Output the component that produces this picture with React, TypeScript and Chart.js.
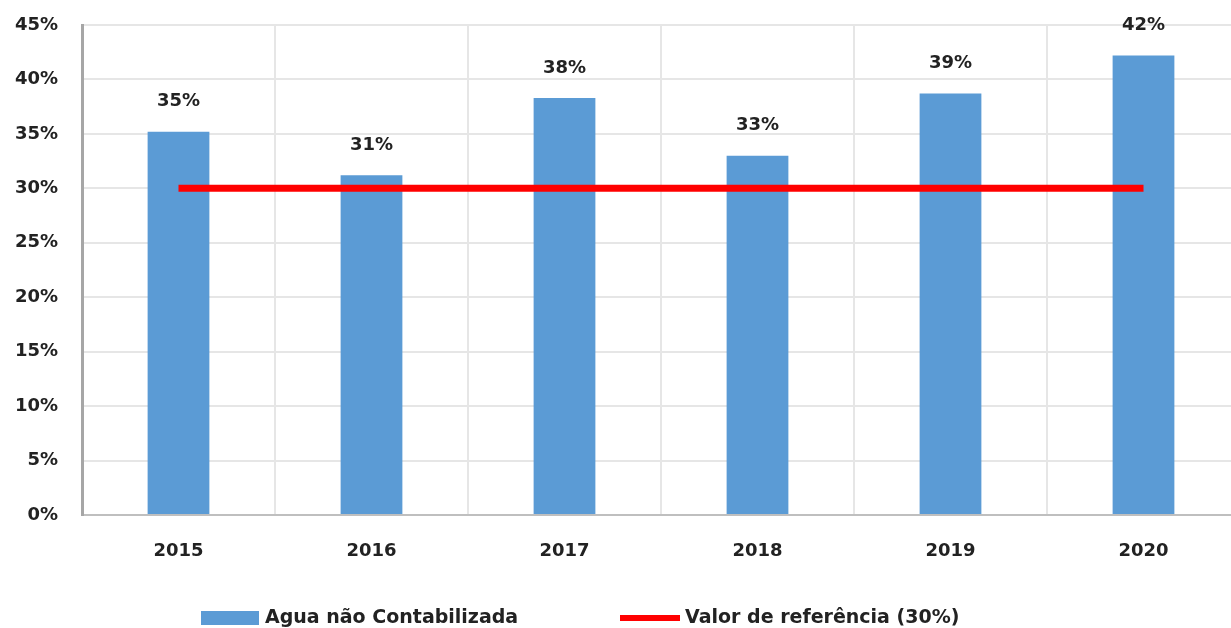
import React, { useEffect, useRef } from "react";
import { Chart, registerables } from "chart.js";

Chart.register(...registerables);

const years = ["2015", "2016", "2017", "2018", "2019", "2020"];
const nonBilledWater = [35.2, 31.2, 38.3, 33.0, 38.7, 42.2];
const referenceValue = [30, 30, 30, 30, 30, 30];
const yMax = 45;
const yStep = 5;
const seriesNames = ["Agua não Contabilizada", "Valor de referência (30%)"];

const FONT_FAMILY = "'DejaVu Sans', 'Liberation Sans', sans-serif";
const TEXT_COLOR = "#222222";
const BAR_COLOR = "#5B9BD5";
const LINE_COLOR = "#FF0000";

const dataLabelsPlugin = {
  id: "dataLabels",
  afterDatasetsDraw(chart: any) {
    const meta = chart.getDatasetMeta(0);
    const ctx = chart.ctx;
    ctx.save();
    ctx.font = `bold 18px ${FONT_FAMILY}`;
    ctx.fillStyle = TEXT_COLOR;
    ctx.textAlign = "center";
    ctx.textBaseline = "middle";
    meta.data.forEach((el: any, i: number) => {
      const v = chart.data.datasets[0].data[i];
      ctx.fillText(`${Math.round(v)}%`, el.x, el.y - 30);
    });
    ctx.restore();
  },
};

const legendPlugin = {
  id: "customLegend",
  afterDraw(chart: any) {
    const ctx = chart.ctx;
    const y = 618;
    ctx.save();
    ctx.font = `bold 19px ${FONT_FAMILY}`;
    ctx.textBaseline = "middle";
    ctx.textAlign = "left";
    // bar series
    ctx.fillStyle = chart.data.datasets[0].backgroundColor;
    ctx.fillRect(201, y - 7, 58, 14);
    ctx.fillStyle = TEXT_COLOR;
    ctx.fillText(chart.data.datasets[0].label, 265, y);
    // line series
    ctx.strokeStyle = chart.data.datasets[1].borderColor;
    ctx.lineWidth = 6;
    ctx.beginPath();
    ctx.moveTo(620, y);
    ctx.lineTo(680, y);
    ctx.stroke();
    ctx.fillText(chart.data.datasets[1].label, 685, y);
    ctx.restore();
  },
};

export default function App() {
  const canvasRef = useRef<HTMLCanvasElement | null>(null);

  useEffect(() => {
    if (!canvasRef.current) return;
    const chart = new Chart(canvasRef.current, {
      type: "bar",
      data: {
        labels: years,
        datasets: [
          {
            type: "bar",
            label: seriesNames[0],
            data: nonBilledWater,
            backgroundColor: BAR_COLOR,
            barPercentage: 0.32,
            categoryPercentage: 1,
            order: 2,
          },
          {
            type: "line",
            label: seriesNames[1],
            data: referenceValue,
            borderColor: LINE_COLOR,
            backgroundColor: LINE_COLOR,
            borderWidth: 7,
            pointRadius: 0,
            tension: 0,
            borderCapStyle: "butt",
            order: 1,
          },
        ],
      } as any,
      options: {
        animation: false,
        responsive: false,
        devicePixelRatio: 1,
        layout: { padding: { top: 25, left: 0, right: 0, bottom: 0 } },
        plugins: {
          legend: { display: false },
          tooltip: { enabled: false },
        },
        scales: {
          x: {
            grid: { color: "#e6e6e6", lineWidth: 2, offset: true, drawTicks: false },
            border: { color: "#bfbfbf", width: 2 },
            ticks: {
              color: TEXT_COLOR,
              font: { family: FONT_FAMILY, size: 18, weight: "bold" },
              padding: 26,
              maxRotation: 0,
            },
            afterFit(scale: any) {
              scale.height = 113;
              scale.paddingLeft = 0;
              scale.paddingRight = 0;
            },
          },
          y: {
            min: 0,
            max: yMax,
            grid: { color: "#e6e6e6", lineWidth: 2, drawTicks: false },
            border: { color: "#a6a6a6", width: 3 },
            ticks: {
              stepSize: yStep,
              color: TEXT_COLOR,
              font: { family: FONT_FAMILY, size: 18, weight: "bold" },
              padding: 24,
              callback: (v: any) => `${v}%`,
            },
            afterFit(scale: any) {
              scale.width = 82;
              scale.paddingTop = 0;
              scale.paddingBottom = 0;
            },
          },
        },
      } as any,
      plugins: [dataLabelsPlugin, legendPlugin],
    });
    return () => chart.destroy();
  }, []);

  return (
    <div
      style={{
        position: "fixed",
        left: 0,
        top: 0,
        width: 1231,
        height: 628,
        overflow: "hidden",
        background: "#ffffff",
      }}
    >
      <canvas
        ref={canvasRef}
        width={1240}
        height={628}
        style={{ display: "block", width: 1240, height: 628 }}
      />
    </div>
  );
}
